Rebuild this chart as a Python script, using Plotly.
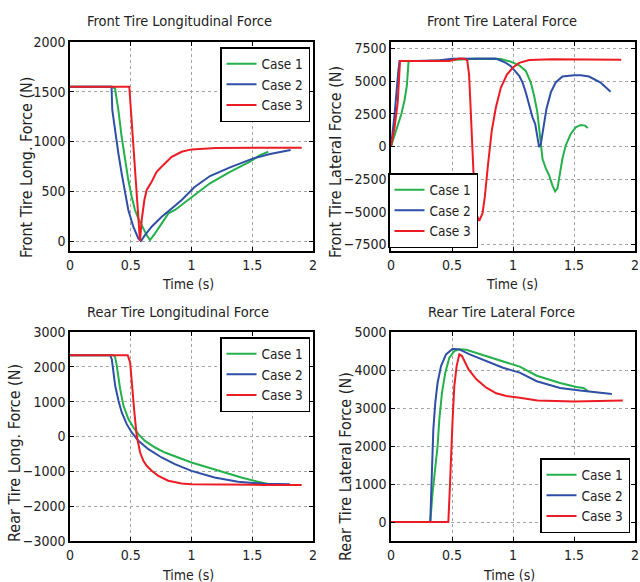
import plotly.graph_objects as go

# ---------------- data ----------------
case_names = ["Case 1", "Case 2", "Case 3"]
colors = ["#24b04a", "#2f4fa6", "#ec1c24"]
x_ticks = [0, 0.5, 1, 1.5, 2]
x_tick_labels = ["0", "0.5", "1", "1.5", "2"]

# Front tire longitudinal force
fl_t1 = [0, 0.34, 0.37, 0.383, 0.398, 0.425, 0.453, 0.48, 0.508, 0.535, 0.562, 0.603, 0.631, 0.658,
         0.7, 0.755, 0.81, 0.864, 0.919, 0.974, 1.023, 1.07, 1.152, 1.317, 1.481, 1.564, 1.632]
fl_v1 = [1550, 1550, 1535, 1450, 1317, 1048, 814, 613, 445, 312, 228, 127, 60, 10,
         77, 178, 278, 312, 362, 412, 462, 505, 580, 696, 797, 864, 897]
fl_t2 = [0, 0.342, 0.348, 0.37, 0.398, 0.425, 0.453, 0.48, 0.521, 0.562, 0.584, 0.617, 0.672, 0.755,
         0.837, 0.919, 1.023, 1.152, 1.317, 1.509, 1.646, 1.816]
fl_v2 = [1550, 1550, 1317, 1116, 881, 680, 479, 312, 144, 27, 0, 60, 144, 244,
         328, 412, 540, 653, 740, 831, 874, 915]
fl_t3 = [0, 0.488, 0.576, 0.59, 0.612, 0.631, 0.672, 0.713, 0.768, 0.837, 0.919, 1.0, 1.2, 1.5, 1.907]
fl_v3 = [1550, 1550, 0, 211, 412, 513, 596, 696, 764, 847, 897, 921, 935, 937, 938]

# Front tire lateral force
fy_t1 = [0, 0.04, 0.085, 0.11, 0.13, 0.143, 0.15, 0.3, 0.5, 0.7, 0.9, 0.98, 1.051, 1.105, 1.146, 1.173,
         1.2, 1.22, 1.242, 1.27, 1.296, 1.323, 1.345, 1.364, 1.383, 1.405, 1.432, 1.473, 1.514,
         1.555, 1.59, 1.614]
fy_v1 = [0, 1200, 2490, 3500, 4650, 6420, 6550, 6550, 6650, 6720, 6700, 6500, 6220, 5790, 4900, 3880,
         2610, 1090, -940, -1700, -2210, -2970, -3430, -3220, -2210, -940, 76, 965, 1470,
         1650, 1600, 1420]
fy_t2 = [0, 0.03, 0.06, 0.07, 0.2, 0.4, 0.5, 0.7, 0.86, 0.942, 0.982, 1.051, 1.078, 1.105, 1.133, 1.16,
         1.182, 1.2, 1.214, 1.228, 1.247, 1.274, 1.31, 1.35, 1.405, 1.5, 1.555, 1.623, 1.718, 1.8]
fy_v2 = [0, 2500, 5800, 6550, 6550, 6600, 6720, 6750, 6730, 6400, 6150, 5405, 4900, 4140, 3120, 2230,
         1725, 840, -50, 200, 1345, 2870, 4140, 4900, 5355, 5455, 5455, 5355, 4900, 4190]
fy_t3 = [0, 0.03, 0.055, 0.074, 0.2, 0.478, 0.56, 0.6, 0.625, 0.64, 0.65, 0.66, 0.67, 0.685, 0.70, 0.723,
         0.75, 0.769, 0.796, 0.826, 0.86, 0.9, 0.95, 1.0, 1.051, 1.133, 1.323, 1.596, 1.887]
fy_v3 = [0, 1500, 3375, 6550, 6550, 6550, 6730, 6720, 6600, 5500, 3500, 1000, -1400, -3900, -5200, -5690,
         -5130, -3860, -1320, 1220, 3000, 4500, 5500, 6050, 6400, 6620, 6675, 6675, 6650]

# Rear tire longitudinal force
rl_t1 = [0, 0.358, 0.372, 0.385, 0.413, 0.44, 0.481, 0.522, 0.563, 0.617, 0.7, 0.781, 0.89, 1.0, 1.137,
         1.273, 1.41, 1.546, 1.63]
rl_v1 = [2335, 2335, 2270, 2030, 1360, 880, 500, 258, 67, -125, -316, -460, -603, -746, -890,
         -1034, -1177, -1300, -1360]
rl_t2 = [0, 0.33, 0.344, 0.358, 0.372, 0.399, 0.426, 0.467, 0.508, 0.563, 0.645, 0.754, 0.863, 1.0,
         1.19, 1.383, 1.6, 1.81]
rl_v2 = [2335, 2335, 2220, 1840, 1455, 1024, 690, 354, 115, -125, -364, -603, -795, -986,
         -1177, -1300, -1360, -1370]
rl_t3 = [0, 0.475, 0.495, 0.508, 0.53, 0.549, 0.577, 0.604, 0.631, 0.672, 0.727, 0.809, 0.918, 1.0,
         1.3, 1.6, 1.907]
rl_v3 = [2335, 2335, 2125, 1550, 690, 20, -460, -700, -840, -985, -1130, -1270, -1350, -1370,
         -1385, -1390, -1390]

# Rear tire lateral force
ry_t1 = [0, 0.322, 0.341, 0.363, 0.382, 0.396, 0.418, 0.445, 0.478, 0.519, 0.56, 0.617, 0.781, 0.918,
         1.055, 1.195, 1.386, 1.52, 1.577, 1.617]
ry_v1 = [0, 0, 772, 1473, 2000, 2701, 3403, 3929, 4323, 4499, 4543, 4530, 4368, 4237,
         4088, 3850, 3660, 3555, 3529, 3441]
ry_t2 = [0, 0.322, 0.336, 0.347, 0.363, 0.382, 0.41, 0.451, 0.505, 0.56, 0.645, 0.781, 0.918, 1.055,
         1.195, 1.386, 1.55, 1.81]
ry_v2 = [0, 0, 1386, 2438, 3140, 3666, 4104, 4411, 4560, 4543, 4412, 4237, 4061, 3930,
         3704, 3529, 3459, 3371]
ry_t3 = [0, 0.47, 0.483, 0.492, 0.505, 0.519, 0.538, 0.56, 0.582, 0.609, 0.636, 0.7, 0.781,
         0.863, 0.945, 1.055, 1.2, 1.5, 1.75, 1.9]
ry_v3 = [0, 0, 947, 1824, 2701, 3578, 4104, 4411, 4367, 4192, 4017, 3754, 3535,
         3386, 3316, 3272, 3200, 3170, 3180, 3200]

panels = [
    dict(title="Front Tire Longitudinal Force", ylabel="Front Tire Long. Force (N)",
         series=[(fl_t1, fl_v1), (fl_t2, fl_v2), (fl_t3, fl_v3)],
         yrange=[-100, 2000], yticks=[0, 500, 1000, 1500, 2000]),
    dict(title="Front Tire Lateral Force", ylabel="Front Tire Lateral Force (N)",
         series=[(fy_t1, fy_v1), (fy_t2, fy_v2), (fy_t3, fy_v3)],
         yrange=[-8000, 8000], yticks=[-7500, -5000, -2500, 0, 2500, 5000, 7500]),
    dict(title="Rear Tire Longitudinal Force", ylabel="Rear Tire Long. Force (N)",
         series=[(rl_t1, rl_v1), (rl_t2, rl_v2), (rl_t3, rl_v3)],
         yrange=[-3000, 3000], yticks=[-3000, -2000, -1000, 0, 1000, 2000, 3000]),
    dict(title="Rear Tire Lateral Force", ylabel="Rear Tire Lateral Force (N)",
         series=[(ry_t1, ry_v1), (ry_t2, ry_v2), (ry_t3, ry_v3)],
         yrange=[-500, 5000], yticks=[0, 1000, 2000, 3000, 4000, 5000]),
]

# ---------------- layout geometry (pixels) ----------------
W, H = 640, 582
boxes = [(70, 313, 42, 251), (391, 635, 42, 251), (70, 313, 332, 541), (391, 635, 332, 541)]
title_pos = [(179, 21), (502, 21), (178, 312), (501, 312)]
xlab_pos = [(188, 284), (512, 284), (188, 575), (509, 575)]
ylab_pos = [(27, 168), (335, 162), (14, 453), (345, 467)]
legend_pos = [(310, 47, "right", "top"), (388, 248, "left", "bottom"),
              (310, 337, "right", "top"), (630, 533, "right", "bottom")]

COND = "DejaVu Sans Condensed, Liberation Sans Narrow, Roboto, sans-serif"
TXT = "#222222"

def px(x):
    return x / W

def py(y):
    return (H - y) / H

fig = go.Figure()
annotations = []
for i, p in enumerate(panels):
    ax = "" if i == 0 else str(i + 1)
    leg = "legend" if i == 0 else f"legend{i + 1}"
    for k, (t, v) in enumerate(p["series"]):
        fig.add_trace(go.Scatter(x=t, y=v, mode="lines", name=case_names[k],
                                 line=dict(color=colors[k], width=2),
                                 xaxis="x" + ax, yaxis="y" + ax, legend=leg))
    x0, x1, y0, y1 = boxes[i]
    common = dict(showline=True, linecolor="black", linewidth=1.5, mirror="ticks",
                  ticks="inside", ticklen=4, tickcolor="black", showgrid=True,
                  gridcolor="#a3a3a3", griddash="dot", gridwidth=1, zeroline=False,
                  tickfont=dict(family=COND, size=14, color=TXT), automargin=False)
    fig.update_layout(**{
        "xaxis" + ax: dict(domain=[px(x0), px(x1)], range=[0, 2], tickvals=x_ticks,
                           ticktext=x_tick_labels, anchor="y" + ax, **common),
        "yaxis" + ax: dict(domain=[py(y1), py(y0)], range=p["yrange"], tickvals=p["yticks"],
                           anchor="x" + ax, **common),
    })
    lx, ly, xa, ya = legend_pos[i]
    fig.update_layout(**{leg: dict(x=px(lx), y=py(ly), xanchor=xa, yanchor=ya,
                                   bgcolor="white", bordercolor="black", borderwidth=1.5,
                                   font=dict(family=COND, size=13.5, color=TXT),
                                   itemwidth=30, tracegroupgap=0)})
    tx, ty = title_pos[i]
    annotations.append(dict(text=p["title"], x=px(tx), y=py(ty), xref="paper", yref="paper",
                            showarrow=False, xanchor="center", yanchor="middle",
                            font=dict(family=COND, size=14.5, color=TXT)))
    ax_, ay_ = xlab_pos[i]
    annotations.append(dict(text="Time (s)", x=px(ax_), y=py(ay_), xref="paper", yref="paper",
                            showarrow=False, xanchor="center", yanchor="middle",
                            font=dict(family=COND, size=14, color=TXT)))
    yx, yy = ylab_pos[i]
    annotations.append(dict(text=p["ylabel"], x=px(yx), y=py(yy), xref="paper", yref="paper",
                            showarrow=False, xanchor="center", yanchor="middle", textangle=-90,
                            font=dict(family=COND, size=16, color=TXT)))

fig.update_layout(template="none", width=W, height=H,
                  margin=dict(l=0, r=0, t=0, b=0),
                  paper_bgcolor="white", plot_bgcolor="white",
                  annotations=annotations, showlegend=True)

fig.write_html("out.html", config={"displayModeBar": False},
               post_script="document.body.style.margin='0';")
